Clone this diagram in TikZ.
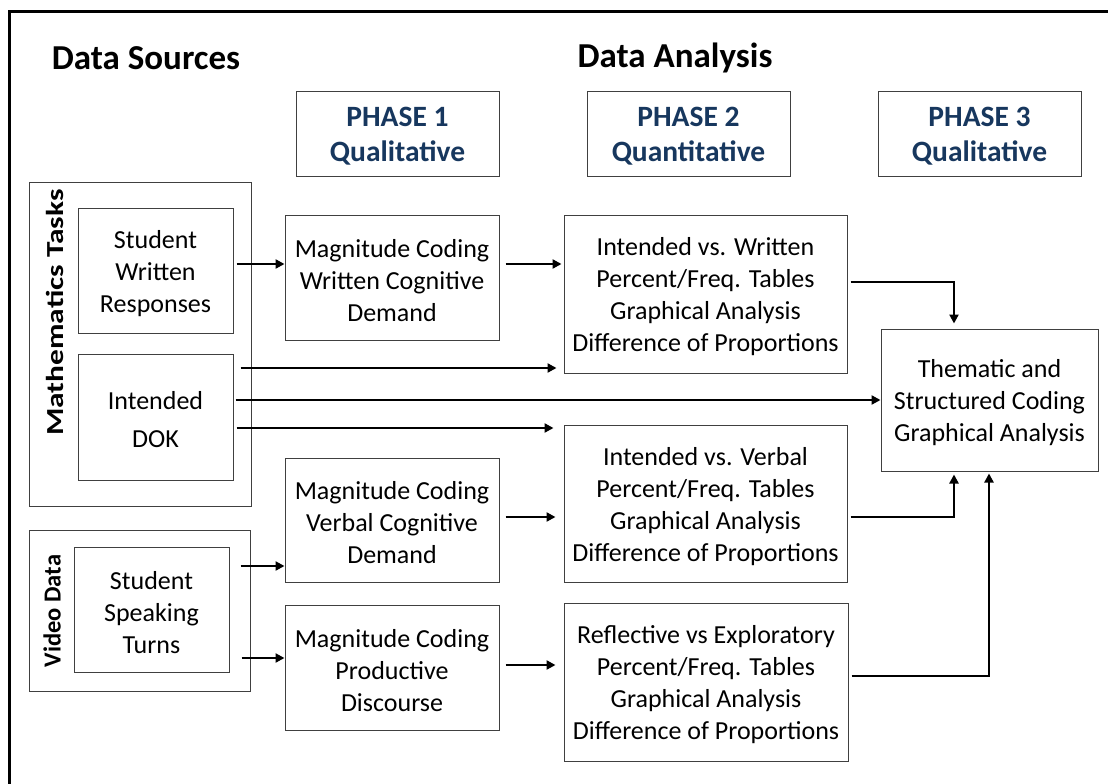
\documentclass[tikz,border=0pt]{standalone}
\usepackage{fontspec}
\setmainfont{Carlito}
\usetikzlibrary{arrows.meta,calc}
\definecolor{phaseblue}{RGB}{23,55,94}
\definecolor{boxgray}{RGB}{64,64,64}
\newcommand{\toprl}{\rule{0pt}{24pt}}
\newcommand{\toprp}{\rule{0pt}{25pt}}
\begin{document}
\begin{tikzpicture}[x=1pt,y=-1pt,
  box/.style={draw=boxgray,line width=1pt,inner sep=0pt,align=center,
    font=\fontsize{26}{32}\selectfont},
  phasebox/.style={draw=boxgray,line width=1pt,inner sep=0pt,align=center,
    text=phaseblue,font=\fontsize{29.5}{35}\selectfont\bfseries,
    minimum width=203pt,minimum height=85pt},
  grp/.style={draw=boxgray,line width=1pt,inner sep=0pt},
  head/.style={font=\fontsize{35}{40}\selectfont\bfseries,inner sep=0pt},
  side/.style={font=\fontsize{24.5}{28}\selectfont\bfseries,inner sep=0pt,rotate=90},
  arr/.style={line width=2.9pt,-{Triangle[length=9pt,width=9pt]}}]
\clip (0,0) rectangle (1108,784);
\useasboundingbox (0,0) rectangle (1108,784);
\fill[white] (0,0) rectangle (1108,784);
\draw[line width=3pt] (9.5,11.5) rectangle (1130,810);

% headings
\node[head] (hds) at (146,58) {Data Sources};
\node[head] (hda) at (675,58) {Data Analysis};

% phase boxes
\node[phasebox] (ph1) at (397.5,133.5) {\toprp PHASE 1\\Qualitative};
\node[phasebox] (ph2) at (688.5,133.5) {\toprp PHASE 2\\Quantitative};
\node[phasebox] (ph3) at (979.5,133.5) {\toprp PHASE 3\\Qualitative};

% group boxes
\node[grp,minimum width=222pt,minimum height=324pt] (mt) at (140,344) {};
\node[side] (mtl) at (55,312.5) {\scalebox{1.28}[1]{Mathematics Tasks}};
\node[grp,minimum width=221pt,minimum height=161pt] (vd) at (139.5,610.5) {};
\node[side] (vdl) at (52,611) {Video Data};

% source boxes
\node[box,minimum width=155pt,minimum height=125pt] (swr) at (155.5,270.5) {\toprl Student\\Written\\Responses};
\node[box,minimum width=155pt,minimum height=126pt] (dok) at (155.5,417) {\toprl Intended\\[6pt]DOK};
\node[box,minimum width=155pt,minimum height=125pt] (sst) at (151.5,609.5) {\toprl Student\\Speaking\\Turns};

% phase 1 boxes
\node[box,minimum width=214pt,minimum height=125pt] (mcw) at (392,277.5) {\toprl Magnitude Coding\\Written Cognitive\\Demand};
\node[box,minimum width=214pt,minimum height=124pt] (mcv) at (392,520) {\toprl Magnitude Coding\\Verbal Cognitive\\Demand};
\node[box,minimum width=214pt,minimum height=125pt] (mcp) at (392,667.5) {\toprl Magnitude Coding\\Productive\\Discourse};

% phase 2 boxes
\node[box,minimum width=283pt,minimum height=158pt] (ivw) at (705.5,294) {\toprl Intended vs. Written\\Percent/Freq. Tables\\Graphical Analysis\\Difference of Proportions};
\node[box,minimum width=283pt,minimum height=157pt] (ivv) at (705.5,503.5) {\toprl Intended vs. Verbal\\Percent/Freq. Tables\\Graphical Analysis\\Difference of Proportions};
\node[box,minimum width=284pt,minimum height=158pt] (rve) at (706,682) {\toprl Reflective vs Exploratory\\Percent/Freq. Tables\\Graphical Analysis\\Difference of Proportions};

% phase 3 box
\node[box,minimum width=217pt,minimum height=142pt] (thm) at (989.5,400) {\toprl Thematic and\\Structured Coding\\Graphical Analysis};

% arrows
\draw[arr] ($(swr.east|-0,264)+(3,0)$) -- (mcw.west|-0,264);
\draw[arr] ($(mcw.east|-0,264)+(6,0)$) -- ($(ivw.west|-0,264)+(-2,0)$);
\draw[arr] ($(dok.east|-0,368)+(7,0)$) -- ($(ivw.west|-0,368)+(-7,0)$);
\draw[arr] ($(dok.east|-0,400)+(2,0)$) -- (thm.west|-0,400);
\draw[arr] ($(dok.east|-0,428)+(3,0)$) -- ($(ivv.west|-0,428)+(-10,0)$);
\draw[arr] ($(sst.east|-0,566)+(11,0)$) -- (mcv.west|-0,566);
\draw[arr] ($(sst.east|-0,658)+(12,0)$) -- (mcp.west|-0,658);
\draw[arr] ($(mcv.east|-0,517)+(6,0)$) -- ($(ivv.west|-0,517)+(-8,0)$);
\draw[arr] ($(mcp.east|-0,665)+(6,0)$) -- ($(rve.west|-0,665)+(-8,0)$);
\draw[arr] ($(ivw.east|-0,282)+(3,0)$) -| ($(thm.north-|954,0)+(0,-5)$);
\draw[arr] ($(ivv.east|-0,517)+(3,0)$) -| ($(thm.south-|954,0)+(0,3)$);
\draw[arr] ($(rve.east|-0,676)+(3,0)$) -| ($(thm.south-|989,0)+(0,2)$);
\end{tikzpicture}
\end{document}
